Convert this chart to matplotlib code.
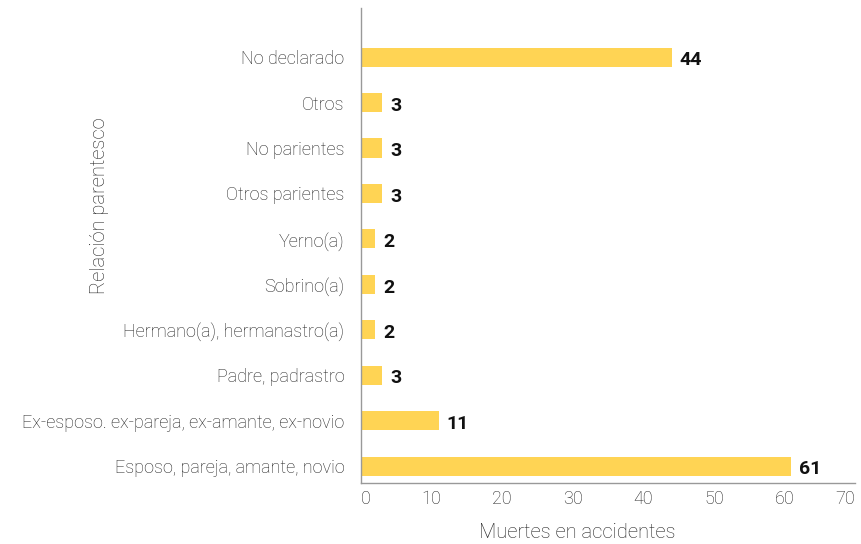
import matplotlib
matplotlib.use('Agg')
import matplotlib.pyplot as plt

categorias = ['Esposo, pareja, amante, novio',
              'Ex-esposo. ex-pareja, ex-amante, ex-novio',
              'Padre, padrastro',
              'Hermano(a), hermanastro(a)',
              'Sobrino(a)',
              'Yerno(a)',
              'Otros parientes',
              'No parientes',
              'Otros',
              'No declarado']
muertes = [61, 11, 3, 2, 2, 2, 3, 3, 3, 44]
ticks_x = [0, 10, 20, 30, 40, 50, 60, 70]

plt.rcParams['font.family'] = ['Roboto', 'DejaVu Sans']

fig = plt.figure(figsize=(8.62, 5.44), dpi=100)
ax = fig.add_axes([361/862, 61/544, (855-361)/862, 475/544])

pos = list(range(len(categorias)))
ax.barh(pos, muertes, height=0.42, color='#FFD454')
for p, v in zip(pos, muertes):
    ax.text(v + 1.1, p - 0.07, str(v), va='center', ha='left',
            fontsize=14, fontweight='bold', color='#111111')

ax.set_xlim(0, 70)
ax.set_ylim(-0.37, 10.08)
ax.set_yticks(pos)
ax.set_yticklabels(categorias, fontsize=13, color='#222222', fontweight='light')
ax.set_xticks(ticks_x)
ax.set_xticklabels([str(t) for t in ticks_x], fontsize=13, color='#222222', fontweight='light')
ax.get_xticklabels()[-1].set_horizontalalignment('right')
ax.get_xticklabels()[0].set_horizontalalignment('left')
ax.tick_params(axis='both', length=0)
ax.tick_params(axis='y', pad=12)
ax.tick_params(axis='x', pad=5)

for s in ['top', 'right']:
    ax.spines[s].set_visible(False)
for s in ['left', 'bottom']:
    ax.spines[s].set_color('#999999')
    ax.spines[s].set_linewidth(1.0)

fig.text(100/862, 1 - 206/544, 'Relación parentesco', rotation=90, ha='center', va='center',
         fontsize=14.5, color='#222222', fontweight='light')
fig.text(577/862, 1 - 533/544, 'Muertes en accidentes', ha='center', va='center',
         fontsize=14.5, color='#222222', fontweight='light')

fig.savefig('out.png', dpi=100)
